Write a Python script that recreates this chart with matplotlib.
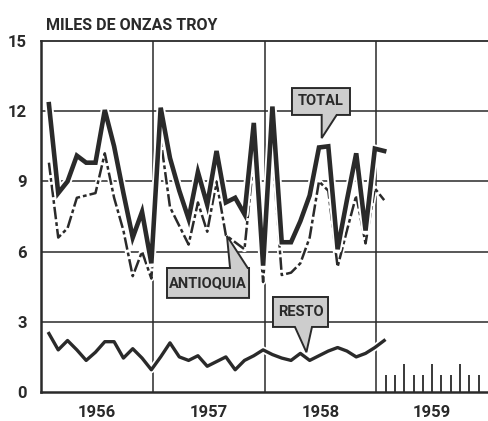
import numpy as np
import matplotlib
matplotlib.use('Agg')
import matplotlib.pyplot as plt
from matplotlib.patches import Polygon

### data: monthly gold production, Jan 1956 - Jan 1959 (miles de onzas troy) ###

total = [12.3, 8.5, 9.0, 10.1, 9.8, 9.8, 12.05, 10.5, 8.5, 6.6, 7.7, 5.5,
         12.15, 10.0, 8.6, 7.4, 9.4, 8.0, 10.3, 8.1, 8.3, 7.6, 11.5, 5.4,
         12.2, 6.4, 6.4, 7.3, 8.4, 10.45, 10.5, 6.1, 8.2, 10.2, 6.9, 10.4,
         10.3]
antioquia = [9.8, 6.6, 7.0, 8.3, 8.4, 8.5, 10.2, 8.3, 6.9, 4.95, 6.0, 4.85,
             10.8, 7.9, 7.1, 6.3, 8.1, 6.85, 9.0, 6.7, 6.4, 6.1, 10.0, 4.7,
             10.3, 5.0, 5.1, 5.5, 6.6, 9.0, 8.6, 5.35, 6.9, 8.4, 6.35, 8.7,
             8.2]
resto = [2.5, 1.8, 2.2, 1.8, 1.35, 1.7, 2.15, 2.15, 1.45, 1.85, 1.45, 0.95,
         1.5, 2.1, 1.5, 1.35, 1.55, 1.1, 1.3, 1.5, 0.95, 1.35, 1.55, 1.8,
         1.6, 1.45, 1.35, 1.65, 1.35, 1.55, 1.75, 1.9, 1.75, 1.5, 1.65, 1.9,
         2.2]
years = ['1956', '1957', '1958', '1959']
yticks = [0, 3, 6, 9, 12, 15]

# x axis in months from Jan 1956, points plotted near month end
months = np.arange(len(total)) + 0.85

###

plt.rcParams['font.family'] = ['Liberation Sans Narrow', 'Roboto', 'DejaVu Sans']
plt.rcParams['font.weight'] = 'bold'

ink = '#2a2a2a'
box_fill = '#cdcdcd'

fig = plt.figure(figsize=(4.88, 4.21), dpi=100)
ax = fig.add_axes([41/488, 29/421, 447/488, 351/421])
ax.set_xlim(0, 48)
ax.set_ylim(0, 15)

# grid lines
for y in yticks[1:-1]:
    ax.axhline(y, color=ink, lw=1.1, zorder=1)
for x in [12, 24, 36]:
    ax.axvline(x, color=ink, lw=1.1, zorder=1)

# series, each with a white halo under it
ax.plot(months, resto, color='white', lw=5, zorder=2)
ax.plot(months, resto, color=ink, lw=2.4, zorder=3)
ax.plot(months, antioquia, color='white', lw=4.2, zorder=4)
ax.plot(months, antioquia, color=ink, lw=1.8, ls=(0, (5, 1.2, 1.5, 1.2)), zorder=5)
ax.plot(months, total, color='white', lw=6, zorder=6)
ax.plot(months, total, color=ink, lw=3.3, solid_joinstyle='miter', zorder=7)

# spines
for s in ['left', 'bottom']:
    ax.spines[s].set_linewidth(1.8)
    ax.spines[s].set_color(ink)
ax.spines['top'].set_linewidth(1.3)
ax.spines['top'].set_color(ink)
ax.spines['right'].set_visible(False)

# y ticks
ax.set_yticks(yticks)
ax.set_yticklabels([str(v) for v in yticks])
ax.tick_params(axis='y', length=0, pad=10, labelsize=12, labelcolor=ink)

# month ticks only in the empty 1959 section
ax.set_xticks([39, 42, 45])
ax.set_xticks([37, 38, 40, 41, 43, 44, 46, 47], minor=True)
ax.set_xticklabels([])
ax.tick_params(axis='x', which='major', direction='in', length=20, width=1.3, color=ink)
ax.tick_params(axis='x', which='minor', direction='in', length=12, width=1.3, color=ink)

for k, yr in enumerate(years):
    ax.text(12*k + 6, -0.057, yr, transform=ax.get_xaxis_transform(),
            ha='center', va='center', fontsize=12, color=ink)

fig.text(46/488, 1 - 25/421, 'MILES DE ONZAS TROY', ha='left', va='center',
         fontsize=11.5, color=ink)


# callout labels (box with pointer)
def callout(text, x0, x1, y0, y1, b0, b1, tip, side):
    if side == 'bottom':
        verts = [(x0, y1), (x1, y1), (x1, y0), (b1, y0), tip, (b0, y0), (x0, y0)]
    else:
        verts = [(x0, y0), (x1, y0), (x1, y1), (b1, y1), tip, (b0, y1), (x0, y1)]
    ax.add_patch(Polygon(verts, closed=True, fc=box_fill, ec=ink, lw=1.4, zorder=8))
    ax.text((x0 + x1)/2, (y0 + y1)/2, text, ha='center', va='center',
            fontsize=10.5, color=ink, zorder=9)


callout('TOTAL', 26.95, 33.18, 11.84, 12.99, 30.14, 31.75, (30.14, 10.85), 'bottom')
callout('ANTIOQUIA', 13.53, 22.34, 4.02, 5.30, 20.3, 22.2, (19.97, 6.67), 'top')
callout('RESTO', 24.91, 30.82, 2.78, 4.06, 27.27, 29.1, (28.5, 1.7), 'bottom')

plt.savefig('out.png', dpi=100)
